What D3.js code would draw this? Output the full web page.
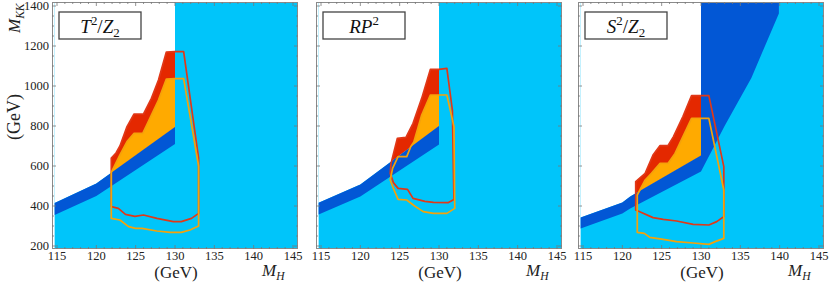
<!DOCTYPE html>
<html>
<head>
<meta charset="utf-8">
<script src="https://cdn.jsdelivr.net/npm/d3@7/dist/d3.min.js"></script>
<style>
  body { margin: 0; background: #fff; }
  svg { display: block; font-family: "Liberation Serif", "DejaVu Serif", serif; }
</style>
</head>
<body>
<svg id="chart" width="830" height="283"></svg>
<script>
// ticks dos eixos
var xTicks = [115, 120, 125, 130, 135, 140, 145];
var yTicks = [200, 400, 600, 800, 1000, 1200, 1400];

// rótulos das caixas
var t2Label = [["T", "i"], ["2", "sup"], ["/", "r"], ["Z", "i"], ["2", "sub"]];
var rp2Label = [["RP", "i"], ["2", "sup"]];
var s2Label = [["S", "i"], ["2", "sup"], ["/", "r"], ["Z", "i"], ["2", "sub"]];

// T2/Z2 : faixa azul escura, regiões preenchidas e contornos (M_H, M_KK)
var bandT2 = [[114.7, 415], [120, 513], [130, 795], [130, 710], [120, 450], [114.7, 355]];
var whiteT2 = [[114.7, 1420], [114.7, 415], [120, 513], [130, 795], [130, 1420]];
var redT2 = [[121.9, 640], [122.5, 665], [123.0, 700], [123.9, 797], [124.8, 860], [126.0, 860],
             [127.0, 938], [127.9, 1030], [128.9, 1170], [130, 1172]];
var orangeT2 = [[121.9, 568], [123.0, 655], [123.9, 722], [124.8, 763], [125.9, 763], [126.4, 805],
                [127.9, 930], [128.9, 1035], [130, 1037]];
var redLineT2 = [[131.1, 1172], [133.0, 640], [133.0, 363], [132.1, 338], [130.8, 322], [129.8, 322],
                 [127.7, 338], [126.0, 355], [124.9, 348], [123.7, 358], [122.8, 388], [121.9, 397]];
var orangeLineT2 = [[131.1, 1037], [133.0, 600], [133.0, 300], [131.9, 280], [130.8, 268], [129.4, 268],
                    [127.7, 275], [125.8, 288], [125.0, 288], [124.1, 297], [123.0, 330], [121.9, 338]];

// RP2
var bandRP2 = [[114.7, 416], [120, 508], [130, 800], [130, 708], [120, 447], [114.7, 358]];
var whiteRP2 = [[114.7, 1420], [114.7, 416], [120, 508], [130, 800], [130, 1420]];
var redRP2 = [[123.9, 613], [124.7, 738], [125.8, 743], [126.7, 813], [127.8, 938], [128.9, 1083], [130, 1083]];
var orangeRP2 = [[126.4, 696], [126.8, 720], [127.8, 855], [128.9, 955], [130, 955]];
var redLineRP2 = [[131.0, 1088], [131.7, 880], [131.9, 433], [131.2, 417], [129.3, 418], [128.2, 423],
                  [126.7, 438], [126.0, 483], [124.8, 488], [124.2, 517], [123.8, 563]];
var orangeLineRP2 = [[131.0, 955], [131.9, 797], [132.0, 388], [131.0, 363], [129.3, 363], [128.0, 372],
                     [126.9, 400], [125.9, 430], [124.8, 433], [124.2, 488], [123.8, 530], [124.1, 588],
                     [124.8, 647], [125.9, 647]];

// S2/Z2
var bandS2 = [[114.7, 343], [120, 417], [121, 447], [130, 653], [130, 1420], [139.9, 1420], [139.9, 1363],
              [136.4, 1040], [133, 800], [130, 572], [121, 388], [120, 363], [114.7, 288]];
var whiteS2 = [[114.7, 1420], [114.7, 343], [120, 417], [121, 447], [130, 653], [130, 1420]];
var redS2 = [[121.7, 522], [122.9, 563], [123.9, 655], [124.8, 702], [125.8, 702], [126.5, 747],
             [127.7, 847], [128.8, 952], [130, 952]];
var orangeS2 = [[121.9, 455], [122.9, 530], [123.7, 563], [124.8, 613], [125.8, 613], [126.7, 663],
                [127.7, 747], [128.8, 838], [130, 838]];
var redLineS2 = [[131.0, 952], [132.9, 597], [132.9, 347], [132.0, 322], [131.0, 305], [129.0, 308],
                 [126.9, 325], [125.2, 333], [123.9, 342], [122.0, 375], [121.7, 380]];
var orangeLineS2 = [[131.0, 838], [132.9, 480], [132.9, 238], [131.8, 222], [131.0, 208], [129.0, 215],
                    [126.9, 222], [125.2, 233], [123.5, 243], [122.8, 263], [121.9, 268]];

var panels = [
  { x0: 52, label: t2Label, band: bandT2, white: whiteT2, red: redT2, orange: orangeT2, redLine: redLineT2, orangeLine: orangeLineT2, yLabels: true },
  { x0: 316, label: rp2Label, band: bandRP2, white: whiteRP2, red: redRP2, orange: orangeRP2, redLine: redLineRP2, orangeLine: orangeLineRP2, yLabels: false },
  { x0: 578, label: s2Label, band: bandS2, white: whiteS2, red: redS2, orange: orangeS2, redLine: redLineS2, orangeLine: orangeLineS2, yLabels: false }
];

var lightBlue = "#00c5fa", darkBlue = "#0257d5", red = "#e42800", orange = "#ffaa00";
var redStroke = "#e03818", orangeStroke = "#f5a20a";
var frameW = 246;

var svg = d3.select("#chart");

// texto com sobrescrito / subscrito
function rich(t, parts, fs) {
  var prev = 0;
  parts.forEach(function (p) {
    var small = p[1] === "sup" || p[1] === "sub" || p[1] === "subi";
    var shift = p[1] === "sup" ? -0.42 * fs : (p[1] === "sub" || p[1] === "subi") ? 0.22 * fs : 0;
    t.append("tspan").text(p[0])
      .attr("dy", shift - prev)
      .attr("font-size", small ? fs * 0.68 : fs)
      .attr("font-style", (p[1] === "i" || p[1] === "subi") ? "italic" : "normal");
    prev = shift;
  });
}

panels.forEach(function (p, k) {
  var x = d3.scaleLinear().domain([115, 145]).range([p.x0 + 5, p.x0 + 241]);
  var y = d3.scaleLinear().domain([200, 1400]).range([246, 6]);
  var line = d3.line().x(function (d) { return x(d[0]); }).y(function (d) { return y(d[1]); });
  var g = svg.append("g");

  // fundo azul claro
  g.append("rect")
    .attr("x", x(114.7)).attr("y", y(1420))
    .attr("width", p.x0 + frameW - x(114.7)).attr("height", y(190) - y(1420))
    .attr("fill", lightBlue);

  // região branca acima da faixa
  g.append("path").attr("d", line(p.white) + "Z").attr("fill", "#fff");

  // clip para as regiões vermelha e laranja
  g.append("clipPath").attr("id", "clip" + k)
    .append("path").attr("d", line(p.white) + "Z");

  var redPoly = p.red.concat([[130, 190], [p.red[0][0], 190]]);
  var orangePoly = p.orange.concat([[130, 190], [p.orange[0][0], 190]]);
  g.append("path").attr("d", line(redPoly) + "Z").attr("fill", red).attr("clip-path", "url(#clip" + k + ")");
  g.append("path").attr("d", line(orangePoly) + "Z").attr("fill", orange).attr("clip-path", "url(#clip" + k + ")");

  // faixa azul escura
  g.append("path").attr("d", line(p.band) + "Z").attr("fill", darkBlue);

  // contornos
  g.append("path").attr("d", line(p.red.concat(p.redLine)) + "Z")
    .attr("fill", "none").attr("stroke", redStroke).attr("stroke-width", 1.7).attr("stroke-linejoin", "round");
  g.append("path").attr("d", line(p.orange.concat(p.orangeLine)) + "Z")
    .attr("fill", "none").attr("stroke", orangeStroke).attr("stroke-width", 1.7).attr("stroke-linejoin", "round");

  // moldura
  var top = 2, bottom = 249, left = p.x0, right = p.x0 + frameW;
  g.append("rect").attr("x", left + 0.5).attr("y", top + 0.5)
    .attr("width", frameW - 1).attr("height", bottom - top - 1)
    .attr("fill", "none").attr("stroke", "#8a8a8a").attr("stroke-width", 1);

  // ticks em todos os lados
  var tk = g.append("g").attr("stroke", "#777").attr("stroke-width", 0.8);
  d3.range(115, 146, 1).forEach(function (v) {
    var len = v % 5 === 0 ? 4 : 2;
    tk.append("line").attr("x1", x(v)).attr("x2", x(v)).attr("y1", bottom).attr("y2", bottom - len);
    tk.append("line").attr("x1", x(v)).attr("x2", x(v)).attr("y1", top).attr("y2", top + len);
  });
  d3.range(200, 1401, 50).forEach(function (v) {
    var len = v % 200 === 0 ? 4 : 2;
    tk.append("line").attr("y1", y(v)).attr("y2", y(v)).attr("x1", left).attr("x2", left + len);
    tk.append("line").attr("y1", y(v)).attr("y2", y(v)).attr("x1", right).attr("x2", right - len);
  });

  // rótulos dos ticks
  g.selectAll(".xt").data(xTicks).enter().append("text")
    .attr("x", function (d) { return x(d); }).attr("y", 260)
    .attr("text-anchor", "middle").attr("font-size", 12.5).attr("fill", "#222")
    .text(function (d) { return d; });
  if (p.yLabels) {
    g.selectAll(".yt").data(yTicks).enter().append("text")
      .attr("x", left - 3).attr("y", function (d) { return y(d) + 4; })
      .attr("text-anchor", "end").attr("font-size", 12.5).attr("fill", "#222")
      .text(function (d) { return d; });
  }

  // títulos do eixo x
  g.append("text").attr("x", x(130) + 1).attr("y", 278)
    .attr("text-anchor", "middle").attr("font-size", 17).attr("fill", "#222").text("(GeV)");
  rich(g.append("text").attr("x", p.x0 + 210).attr("y", 276).attr("fill", "#222"),
       [["M", "i"], ["H", "subi"]], 17);

  // caixa do rótulo
  g.append("rect").attr("x", p.x0 + 7).attr("y", 12).attr("width", 82).attr("height", 27)
    .attr("fill", "#fff").attr("stroke", "#444").attr("stroke-width", 1.3);
  rich(g.append("text").attr("x", p.x0 + 48).attr("y", 33).attr("text-anchor", "middle").attr("fill", "#111"),
       p.label, 19);
});

// títulos do eixo y
rich(svg.append("text").attr("transform", "translate(20,33) rotate(-90)").attr("fill", "#222"),
     [["M", "i"], ["KK", "subi"]], 17);
svg.append("text").attr("transform", "translate(20,117) rotate(-90)")
  .attr("text-anchor", "middle").attr("font-size", 18).attr("fill", "#222").text("(GeV)");
</script>
</body>
</html>
